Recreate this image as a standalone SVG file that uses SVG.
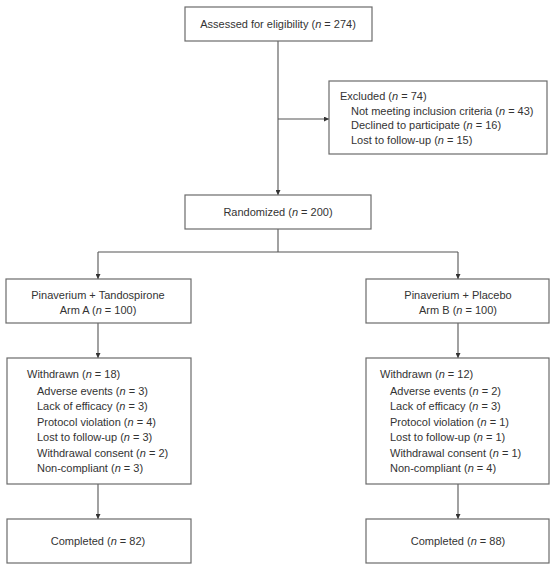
<svg xmlns="http://www.w3.org/2000/svg" width="554" height="568" viewBox="0 0 554 568">
<defs>
<style>
.box{fill:#fff;stroke:#6b6b6b;stroke-width:1.2}
.ln{fill:none;stroke:#555;stroke-width:1.1}
text{font-family:"Liberation Sans",Arial,sans-serif;font-size:11px;fill:#333}
.c{text-anchor:middle}
.i{font-style:italic}
</style>
<marker id="ah" viewBox="0 0 6 6" refX="6" refY="3" markerWidth="5" markerHeight="5" orient="auto" markerUnits="userSpaceOnUse">
<path d="M0,0L6,3L0,6z" fill="#333"/>
</marker>
</defs>
<rect width="554" height="568" fill="#fff"/>
<g id="connectors">
<line class="ln" x1="278" y1="41" x2="278" y2="195" marker-end="url(#ah)"/>
<line class="ln" x1="278" y1="119" x2="329" y2="119" marker-end="url(#ah)"/>
<line class="ln" x1="278" y1="229" x2="278" y2="252"/>
<line class="ln" x1="98" y1="252" x2="458" y2="252"/>
<line class="ln" x1="98" y1="252" x2="98" y2="279" marker-end="url(#ah)"/>
<line class="ln" x1="458" y1="252" x2="458" y2="279" marker-end="url(#ah)"/>
<line class="ln" x1="98" y1="323" x2="98" y2="358" marker-end="url(#ah)"/>
<line class="ln" x1="458" y1="323" x2="458" y2="358" marker-end="url(#ah)"/>
<line class="ln" x1="98" y1="484" x2="98" y2="519" marker-end="url(#ah)"/>
<line class="ln" x1="458" y1="484" x2="458" y2="519" marker-end="url(#ah)"/>
</g>
<g id="assessed">
<rect class="box" x="185" y="7" width="187" height="34"/>
<text class="c" x="278" y="28">Assessed for eligibility (<tspan class="i">n</tspan> = 274)</text>
</g>
<g id="excluded">
<rect class="box" x="329" y="81" width="218" height="73"/>
<text x="340" y="100">Excluded (<tspan class="i">n</tspan> = 74)</text>
<text x="351" y="114.5">Not meeting inclusion criteria (<tspan class="i">n</tspan> = 43)</text>
<text x="351" y="129">Declined to participate (<tspan class="i">n</tspan> = 16)</text>
<text x="351" y="144">Lost to follow-up (<tspan class="i">n</tspan> = 15)</text>
</g>
<g id="randomized">
<rect class="box" x="185" y="195" width="186" height="34"/>
<text class="c" x="278" y="216">Randomized (<tspan class="i">n</tspan> = 200)</text>
</g>
<g id="armA">
<rect class="box" x="6" y="279" width="185" height="44"/>
<text class="c" x="98" y="298.5">Pinaverium + Tandospirone</text>
<text class="c" x="98" y="314">Arm A (<tspan class="i">n</tspan> = 100)</text>
</g>
<g id="armB">
<rect class="box" x="366" y="279" width="183" height="44"/>
<text class="c" x="458" y="298.5">Pinaverium + Placebo</text>
<text class="c" x="458" y="314">Arm B (<tspan class="i">n</tspan> = 100)</text>
</g>
<g id="withdrawnA">
<rect class="box" x="7" y="358" width="184" height="126"/>
<text x="27" y="377.5">Withdrawn (<tspan class="i">n</tspan> = 18)</text>
<text x="37" y="394.5">Adverse events (<tspan class="i">n</tspan> = 3)</text>
<text x="37" y="410">Lack of efficacy (<tspan class="i">n</tspan> = 3)</text>
<text x="37" y="425.5">Protocol violation (<tspan class="i">n</tspan> = 4)</text>
<text x="37" y="441">Lost to follow-up (<tspan class="i">n</tspan> = 3)</text>
<text x="37" y="456.5">Withdrawal consent (<tspan class="i">n</tspan> = 2)</text>
<text x="37" y="472">Non-compliant (<tspan class="i">n</tspan> = 3)</text>
</g>
<g id="withdrawnB">
<rect class="box" x="366" y="358" width="183" height="126"/>
<text x="380" y="377.5">Withdrawn (<tspan class="i">n</tspan> = 12)</text>
<text x="390" y="394.5">Adverse events (<tspan class="i">n</tspan> = 2)</text>
<text x="390" y="410">Lack of efficacy (<tspan class="i">n</tspan> = 3)</text>
<text x="390" y="425.5">Protocol violation (<tspan class="i">n</tspan> = 1)</text>
<text x="390" y="441">Lost to follow-up (<tspan class="i">n</tspan> = 1)</text>
<text x="390" y="456.5">Withdrawal consent (<tspan class="i">n</tspan> = 1)</text>
<text x="390" y="472">Non-compliant (<tspan class="i">n</tspan> = 4)</text>
</g>
<g id="completedA">
<rect class="box" x="7" y="519" width="184" height="44"/>
<text class="c" x="98" y="545">Completed (<tspan class="i">n</tspan> = 82)</text>
</g>
<g id="completedB">
<rect class="box" x="366" y="519" width="183" height="44"/>
<text class="c" x="458" y="545">Completed (<tspan class="i">n</tspan> = 88)</text>
</g>
</svg>
